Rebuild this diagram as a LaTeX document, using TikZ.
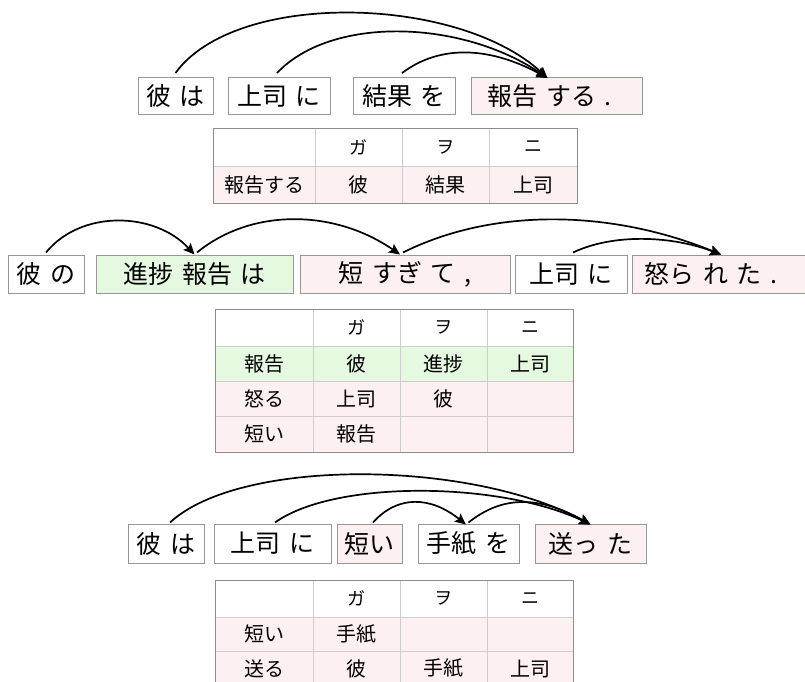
\documentclass[tikz,border=0pt]{standalone}
\usepackage{fontspec}
\setmainfont[WordSpace=1.5]{Noto Sans CJK JP}
\usetikzlibrary{arrows.meta}
\definecolor{pinkbg}{RGB}{253,240,240}
\definecolor{greenbg}{RGB}{229,248,224}
\definecolor{boxline}{RGB}{150,150,150}
\definecolor{tabline}{RGB}{205,205,205}
\definecolor{tabouter}{RGB}{140,140,140}
\begin{document}
\begin{tikzpicture}[x=1pt,y=-1pt,
  wbox/.style={draw=boxline, line width=1pt, fill=white, inner sep=0pt, font=\fontsize{25}{25}\selectfont},
  pbox/.style={wbox, fill=pinkbg},
  gbox/.style={wbox, fill=greenbg},
  arr/.style={-{Stealth[length=11pt,width=10pt,inset=2pt]}, line width=1.7pt, black},
  cell/.style={inner sep=0pt, font=\fontsize{20}{20}\selectfont},
  hcell/.style={inner sep=0pt, font=\fontsize{18}{18}\selectfont},
  tinner/.style={draw=tabline, line width=0.8pt},
  touter/.style={draw=tabouter, line width=1pt}]
\useasboundingbox (0,0) rectangle (805,681);
\clip (0,0) rectangle (805,681);
\fill[white] (0,0) rectangle (805,681);

% ---------- sentence 1 ----------
\node[wbox, minimum width=75pt,  minimum height=37pt] (a1) at (175.5,96) {彼 は};
\node[wbox, minimum width=102pt, minimum height=37pt] (a2) at (279,96) {上司 に};
\node[wbox, minimum width=102pt, minimum height=37pt] (a3) at (404,96) {結果 を};
\node[pbox, minimum width=171pt, minimum height=37pt] (a4) at (556.5,96) {報告 する .\hspace*{14pt}};

\draw[arr] ([yshift=4pt]a1.north) .. controls +(60,-83) and +(-90,-83) .. ([xshift=-9pt,yshift=-1pt]a4.north);
\draw[arr] ([xshift=-2pt,yshift=4pt]a2.north) .. controls +(55,-58) and +(-85,-58) .. ([xshift=-9pt,yshift=-1pt]a4.north);
\draw[arr] ([xshift=-2pt,yshift=4pt]a3.north) .. controls +(40,-30) and +(-55,-30) .. ([xshift=-9pt,yshift=-1pt]a4.north);

% table 1
\fill[white] (213,128) rectangle (577,166);
\fill[pinkbg] (213,166) rectangle (577,203);
\draw[tinner] (315,128) -- (315,203) (402,128) -- (402,203) (489,128) -- (489,203) (213,166) -- (577,166);
\draw[touter] (213,128) rectangle (577,203);
\node[hcell] (t1h2) at (358.5,147) {ガ};
\node[hcell] (t1h3) at (445.5,147) {ヲ};
\node[hcell] (t1h4) at (533,147) {ニ};
\node[cell] (t1r1) at (264,184.5) {報告する};
\node[cell] (t1r2) at (358.5,184.5) {彼};
\node[cell] (t1r3) at (445.5,184.5) {結果};
\node[cell] (t1r4) at (533,184.5) {上司};

% ---------- sentence 2 ----------
\node[wbox, minimum width=76pt,  minimum height=38pt] (b1) at (46,274) {彼 の};
\node[gbox, minimum width=197pt, minimum height=38pt] (b2) at (194.5,274) {進捗 報告 は};
\node[pbox, minimum width=210pt, minimum height=38pt] (b3) at (405,274) {短 すぎ て ,};
\node[wbox, minimum width=112pt, minimum height=38pt] (b4) at (571,274) {上司 に};
\node[pbox, minimum width=178pt, minimum height=38pt] (b5) at (721,274) {怒ら れ た .\hspace*{20pt}};

\draw[arr] ([yshift=2pt]b1.north) .. controls +(35,-43) and +(-40,-43) .. (b2.north);
\draw[arr] ([xshift=2.5pt,yshift=2pt]b2.north) .. controls +(55,-45) and +(-65,-45) .. ([xshift=-5pt]b3.north);
\draw[arr] ([xshift=-2pt,yshift=2pt]b3.north) .. controls +(90,-45) and +(-110,-45) .. (b5.north);
\draw[arr] ([xshift=2pt,yshift=2pt]b4.north) .. controls +(40,-19) and +(-50,-19) .. (b5.north);

% table 2
\fill[white] (215,309) rectangle (573,346);
\fill[greenbg] (215,346) rectangle (573,381);
\fill[pinkbg] (215,381) rectangle (573,452);
\draw[tinner] (313,309) -- (313,452) (400,309) -- (400,452) (487,309) -- (487,452)
  (215,346) -- (573,346) (215,381) -- (573,381) (215,416) -- (573,416);
\draw[touter] (215,309) rectangle (573,452);
\node[hcell] (t2h2) at (356.5,327.5) {ガ};
\node[hcell] (t2h3) at (443.5,327.5) {ヲ};
\node[hcell] (t2h4) at (530,327.5) {ニ};
\node[cell] (t2a1) at (264,363.5) {報告};
\node[cell] (t2a2) at (356.5,363.5) {彼};
\node[cell] (t2a3) at (443.5,363.5) {進捗};
\node[cell] (t2a4) at (530,363.5) {上司};
\node[cell] (t2b1) at (264,398.5) {怒る};
\node[cell] (t2b2) at (356.5,398.5) {上司};
\node[cell] (t2b3) at (443.5,398.5) {彼};
\node[cell] (t2c1) at (264,434) {短い};
\node[cell] (t2c2) at (356.5,434) {報告};

% ---------- sentence 3 ----------
\node[wbox, minimum width=76pt,  minimum height=39pt] (c1) at (166,543.5) {彼 は};
\node[wbox, minimum width=117pt, minimum height=39pt] (c2) at (272.5,543.5) {上司 に};
\node[pbox, minimum width=65pt,  minimum height=39pt] (c3) at (369.5,543.5) {短い};
\node[wbox, minimum width=101pt, minimum height=39pt] (c4) at (468.5,543.5) {手紙 を};
\node[pbox, minimum width=111pt, minimum height=39pt] (c5) at (590.5,543.5) {送っ た};

\draw[arr] ([xshift=4pt,yshift=1pt]c1.north) .. controls +(70,-65) and +(-120,-65) .. ([yshift=-1pt]c5.north);
\draw[arr] ([xshift=2.5pt,yshift=1pt]c2.north) .. controls +(60,-43) and +(-90,-43) .. ([yshift=-1pt]c5.north);
\draw[arr] ([xshift=3.5pt,yshift=1pt]c3.north) .. controls +(25,-28) and +(-35,-28) .. ([xshift=-2.5pt,yshift=-1pt]c4.north);
\draw[arr] ([yshift=1pt]c4.north) .. controls +(35,-28) and +(-50,-28) .. ([yshift=-1pt]c5.north);

% table 3
\fill[white] (215,580) rectangle (573,617);
\fill[pinkbg] (215,617) rectangle (573,686);
\draw[tinner] (313,580) -- (313,686) (400,580) -- (400,686) (487,580) -- (487,686)
  (215,617) -- (573,617) (215,651) -- (573,651);
\draw[touter] (215,580) rectangle (573,686);
\node[hcell] (t3h2) at (356.5,598.5) {ガ};
\node[hcell] (t3h3) at (443.5,598.5) {ヲ};
\node[hcell] (t3h4) at (530,598.5) {ニ};
\node[cell] (t3a1) at (264,634) {短い};
\node[cell] (t3a2) at (356.5,634) {手紙};
\node[cell] (t3b1) at (264,668.5) {送る};
\node[cell] (t3b2) at (356.5,668.5) {彼};
\node[cell] (t3b3) at (443.5,668.5) {手紙};
\node[cell] (t3b4) at (530,668.5) {上司};
\end{tikzpicture}
\end{document}
